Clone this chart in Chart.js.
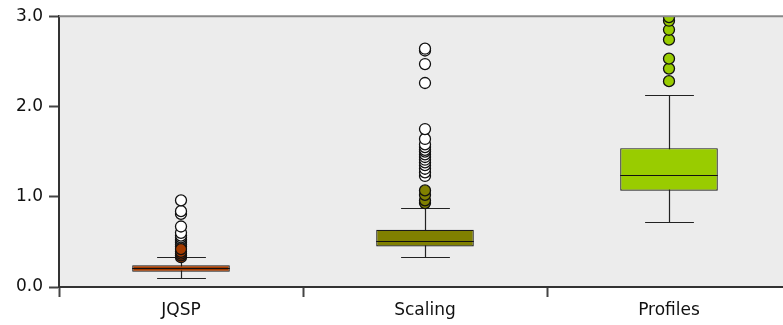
<!DOCTYPE html>
<html>
<head>
<meta charset="utf-8">
<script src="https://cdn.jsdelivr.net/npm/chart.js@4/dist/chart.umd.min.js"></script>
<style>
  html, body { margin: 0; padding: 0; background: #fff; overflow: hidden; }
  #wrap { width: 800px; height: 325px; position: relative; }
</style>
</head>
<body>
<div id="wrap"><canvas id="boxChart"></canvas></div>
<script>
// categories and box statistics
const categories = ['JQSP', 'Scaling', 'Profiles'];
const q1Values = [0.168, 0.45, 1.066];
const medianValues = [0.205, 0.513, 1.242];
const q3Values = [0.242, 0.634, 1.538];
const whiskerLow = [0.102, 0.33, 0.718];
const whiskerHigh = [0.333, 0.879, 2.125];
const boxColors = ['#a33b00', '#808000', '#99cc00'];

// outliers: mild (filled) and extreme (open)
const mildJQSP = [0.33, 0.35, 0.37, 0.39, 0.42];
const extremeJQSP = [0.45, 0.47, 0.49, 0.51, 0.53, 0.55, 0.57, 0.60, 0.67, 0.81, 0.84, 0.96];
const mildScaling = [0.93, 0.96, 1.02, 1.07];
const extremeScaling = [1.23, 1.27, 1.31, 1.35, 1.38, 1.41, 1.44, 1.47, 1.50, 1.52, 1.55, 1.58, 1.64, 1.75, 2.26, 2.47, 2.62, 2.64];
const mildProfiles = [2.28, 2.42, 2.53, 2.74, 2.85, 2.95, 2.99];
const extremeProfiles = [];

const yTicks = [0, 1, 2, 3];

function points(cat, vals) {
    return vals.map(v => ({ x: cat, y: v }));
}

function outlierSet(cat, vals, fill) {
    return {
        type: 'line',
        data: points(cat, vals),
        showLine: false,
        pointRadius: 5.5,
        pointHoverRadius: 5.5,
        pointBorderWidth: 1.3,
        pointBorderColor: '#111',
        pointBackgroundColor: fill,
        order: 1
    };
}

// plot background + top border
const backdrop = {
    id: 'backdrop',
    beforeDraw(chart) {
        const { ctx, chartArea: a } = chart;
        ctx.save();
        ctx.fillStyle = '#ececec';
        ctx.fillRect(a.left, a.top, a.right - a.left, a.bottom - a.top);
        ctx.restore();
    },
    afterDraw(chart) {
        const { ctx, chartArea: a } = chart;
        ctx.save();
        ctx.strokeStyle = '#888';
        ctx.lineWidth = 2;
        ctx.beginPath();
        ctx.moveTo(a.left, a.top);
        ctx.lineTo(a.right, a.top);
        ctx.stroke();
        ctx.restore();
    }
};

// whiskers (under boxes) and medians (over boxes)
const boxParts = {
    id: 'boxParts',
    beforeDatasetsDraw(chart) {
        const { ctx } = chart;
        const x = chart.scales.x, y = chart.scales.y;
        const bars = chart.getDatasetMeta(0).data;
        ctx.save();
        ctx.strokeStyle = '#222';
        ctx.lineWidth = 1.2;
        categories.forEach((c, i) => {
            const cx = Math.round(x.getPixelForValue(i)) + 0.5;
            const half = bars[i].width / 4;
            const lo = Math.round(y.getPixelForValue(whiskerLow[i])) + 0.5;
            const hi = Math.round(y.getPixelForValue(whiskerHigh[i])) + 0.5;
            ctx.beginPath();
            ctx.moveTo(cx, lo);
            ctx.lineTo(cx, hi);
            ctx.moveTo(cx - half, lo);
            ctx.lineTo(cx + half, lo);
            ctx.moveTo(cx - half, hi);
            ctx.lineTo(cx + half, hi);
            ctx.stroke();
        });
        ctx.restore();
    },
    afterDatasetDraw(chart, args) {
        if (args.index !== 0) return;
        const { ctx } = chart;
        const y = chart.scales.y;
        const bars = chart.getDatasetMeta(0).data;
        ctx.save();
        ctx.strokeStyle = '#111';
        ctx.lineWidth = 1.2;
        categories.forEach((c, i) => {
            const b = bars[i];
            const my = Math.round(y.getPixelForValue(medianValues[i])) + 0.5;
            ctx.beginPath();
            ctx.moveTo(b.x - b.width / 2, my);
            ctx.lineTo(b.x + b.width / 2, my);
            ctx.stroke();
        });
        ctx.restore();
    }
};

const ctx = document.getElementById('boxChart').getContext('2d');
new Chart(ctx, {
    type: 'bar',
    data: {
        labels: categories,
        datasets: [
            {
                type: 'bar',
                data: categories.map((c, i) => [q1Values[i], q3Values[i]]),
                backgroundColor: boxColors,
                borderColor: '#1a1a1a',
                borderWidth: 1.2,
                borderSkipped: false,
                barPercentage: 0.4,
                categoryPercentage: 1,
                order: 2
            },
            outlierSet('JQSP', mildJQSP, boxColors[0]),
            outlierSet('JQSP', extremeJQSP, '#ffffff'),
            outlierSet('Scaling', mildScaling, boxColors[1]),
            outlierSet('Scaling', extremeScaling, '#ffffff'),
            outlierSet('Profiles', mildProfiles, boxColors[2]),
            outlierSet('Profiles', extremeProfiles, '#ffffff')
        ]
    },
    options: {
        responsive: true,
        maintainAspectRatio: false,
        animation: false,
        layout: { padding: { top: 14, right: 9, left: 0, bottom: 0 } },
        plugins: {
            legend: { display: false },
            tooltip: { enabled: false }
        },
        scales: {
            x: {
                type: 'category',
                offset: true,
                afterFit: s => { s.height = 38; },
                grid: {
                    display: true,
                    offset: true,
                    drawOnChartArea: false,
                    drawTicks: true,
                    tickLength: 10,
                    tickWidth: 2,
                    tickColor: '#444'
                },
                border: { display: true, color: '#333', width: 2 },
                ticks: {
                    color: '#111',
                    padding: 3,
                    font: { family: 'DejaVu Sans', size: 17 }
                }
            },
            y: {
                min: 0,
                max: 3,
                afterFit: s => { s.width = 59; },
                afterBuildTicks: s => { s.ticks = yTicks.map(v => ({ value: v })); },
                grid: {
                    display: true,
                    drawOnChartArea: false,
                    drawTicks: true,
                    tickLength: 10,
                    tickWidth: 2,
                    tickColor: '#444'
                },
                border: { display: true, color: '#333', width: 2 },
                ticks: {
                    color: '#111',
                    padding: 6,
                    font: { family: 'DejaVu Sans', size: 17 },
                    callback: v => Number(v).toFixed(1)
                }
            }
        }
    },
    plugins: [backdrop, boxParts]
});
</script>
</body>
</html>
